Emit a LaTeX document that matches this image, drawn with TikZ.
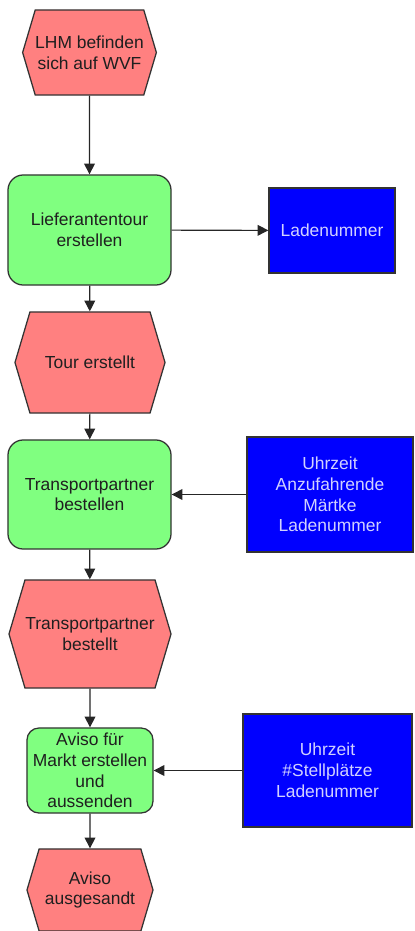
\documentclass[tikz,border=0pt]{standalone}
\usepackage{fontspec}
\setmainfont{Liberation Sans}
\usepackage{tikz}
\usetikzlibrary{shapes.symbols,arrows.meta}

\definecolor{ereigrot}{HTML}{FF8080}
\definecolor{funkgruen}{HTML}{80FF80}
\definecolor{infoblau}{HTML}{0000FF}
\definecolor{rahmen}{HTML}{333333}

\begin{document}
\begin{tikzpicture}[
    x=0.025cm, y=-0.025cm,
    font={\fontsize{12.4}{14.8}\selectfont},
    ereignis/.style={shape=signal, signal to=west and east,
        signal pointer angle=147, draw=rahmen, line width=0.9pt,
        fill=ereigrot, text=black!88, align=center, inner sep=0pt},
    funktion/.style={rectangle, rounded corners=0.38cm, draw=rahmen,
        line width=0.9pt, fill=funkgruen, text=black!88, align=center,
        inner sep=0pt},
    info/.style={rectangle, draw=rahmen, line width=0.9pt,
        fill=infoblau, text=white!82!blue, align=center, inner sep=0pt},
    pfeil/.style={line width=0.8pt, draw=black!85,
        -{Triangle[length=0.27cm, width=0.27cm]}}
]
    \useasboundingbox (0,0) rectangle (414,931);

    % Prozesskette
    \node[ereignis, minimum width=3.125cm, minimum height=2.125cm]
        (lhmwvf) at (89.5,52.5) {LHM befinden\\sich auf WVF};
    \node[funktion, minimum width=4.075cm, minimum height=2.75cm]
        (lieftour) at (89.5,230) {Lieferantentour\\erstellen};
    \node[ereignis, minimum width=3.75cm, minimum height=2.525cm]
        (tourerst) at (90,362.5) {Tour erstellt};
    \node[funktion, minimum width=4.075cm, minimum height=2.725cm]
        (tpbest) at (89.5,494.5) {Transportpartner\\bestellen};
    \node[ereignis, minimum width=4.05cm, minimum height=2.7cm]
        (tpbestellt) at (90,634) {Transportpartner\\bestellt};
    \node[funktion, rounded corners=0.3cm, minimum width=3.15cm,
        minimum height=2.125cm]
        (aviso) at (90,770.5) {Aviso f\"ur\\Markt erstellen\\und\\aussenden};
    \node[ereignis, minimum width=3.15cm, minimum height=2.05cm]
        (avisoaus) at (90,890) {Aviso\\ausgesandt};

    % Informationsobjekte
    \node[info, minimum width=3.15cm, minimum height=2.125cm]
        (ladnr) at (332,230.5) {Ladenummer};
    \node[info, minimum width=4.15cm, minimum height=2.875cm]
        (tpinfo) at (330,494.5) {Uhrzeit\\Anzufahrende\\M\"artke\\Ladenummer};
    \node[info, minimum width=4.225cm, minimum height=2.825cm]
        (avisoinfo) at (327.5,770.5) {Uhrzeit\\\#Stellpl\"atze\\Ladenummer};

    % Kontrollfluss
    \draw[pfeil] (lhmwvf) -- (lieftour);
    \draw[pfeil] (lieftour) -- (tourerst);
    \draw[pfeil] (tourerst) -- (tpbest);
    \draw[pfeil] (tpbest) -- (tpbestellt);
    \draw[pfeil] (tpbestellt) -- (aviso);
    \draw[pfeil] (aviso) -- (avisoaus);

    % Datenfluss
    \draw[pfeil] (lieftour) -- (ladnr);
    \draw[pfeil] (tpinfo) -- (tpbest);
    \draw[pfeil] (avisoinfo) -- (aviso);
\end{tikzpicture}
\end{document}
